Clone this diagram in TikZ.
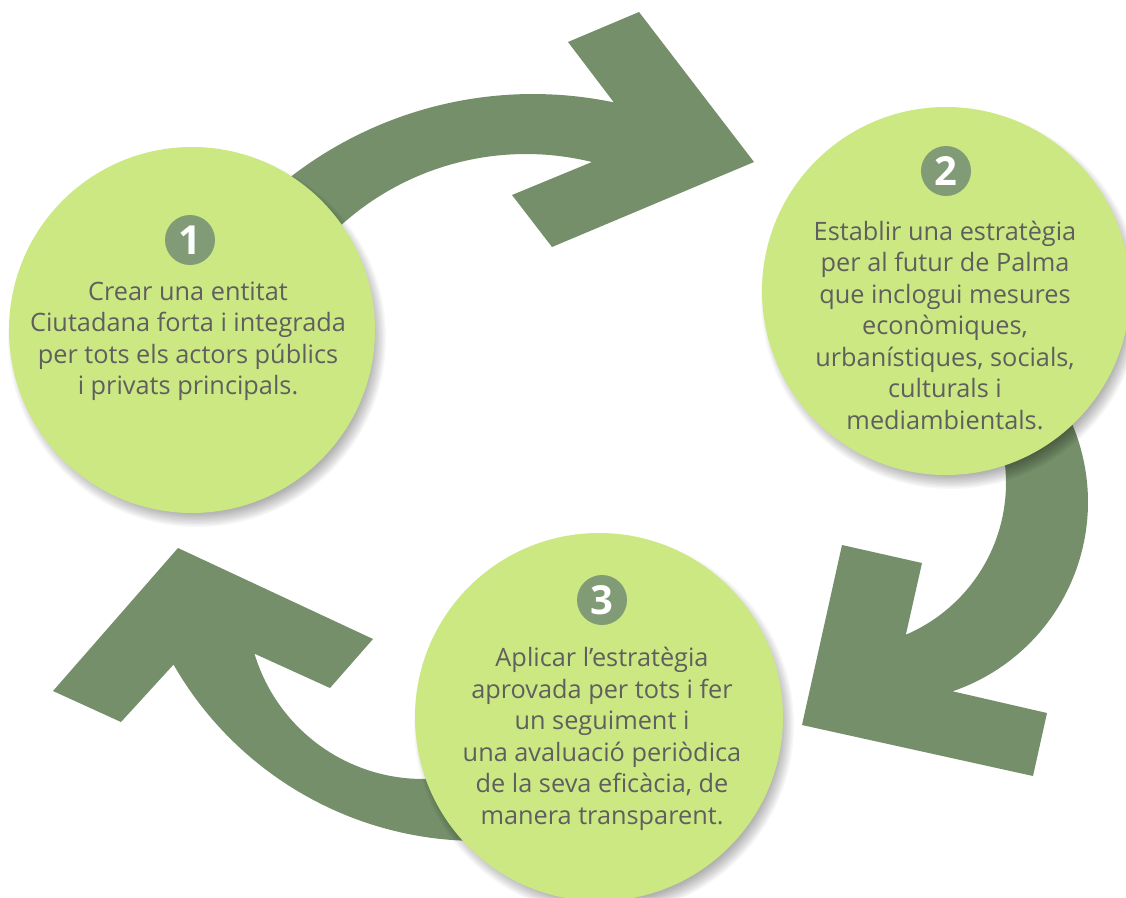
\documentclass[tikz,border=0pt]{standalone}
\usepackage{fontspec}
\setmainfont{Open Sans}
\definecolor{discgreen}{RGB}{204,232,130}
\definecolor{arrowgreen}{RGB}{116,143,105}
\definecolor{badgegreen}{RGB}{128,155,118}
\definecolor{textgrey}{RGB}{94,95,94}
\tikzset{
  disc/.style={circle, fill=discgreen, inner sep=0pt},
  badge/.style={circle, fill=badgegreen, minimum size=50pt, inner sep=0pt, text=white, font=\bfseries\fontsize{40}{40}\selectfont},
  steptext/.style={align=center, text=textgrey, font=\fontsize{25.3}{31.5}\selectfont, inner sep=0pt},
  band/.style={fill=arrowgreen},
  softshadow/.style={fill=black, opacity=0.03}
}
\begin{document}
\begin{tikzpicture}[x=1pt,y=-1pt]
\useasboundingbox (0,0) rectangle (1126,897);
\fill[white] (0,0) rectangle (1126,897);

% arrow 1 -> 2
\fill[band] plot[domain=0:1, samples=50, variable=\t] ({533+396*cos(-135+56.8*\t)}, {490+396*sin(-135+56.8*\t)})
  -- (568,42) -- (639,12) -- (754,162) -- (552,247) -- (512,195) -- (592,162)
  -- plot[domain=0:1, samples=50, variable=\t] ({526+276*cos(-76.2-68.8*\t)}, {430+276*sin(-76.2-68.8*\t)}) -- cycle;

% arrow 2 -> 3
\fill[band] plot[domain=0:1, samples=50, variable=\t] ({888+200*cos(-30+101.2*\t)}, {502+200*sin(-30+101.2*\t)})
  -- (1047,713) -- (1033,776) -- (802,725) -- (842,545) -- (922,563) -- (906,634)
  -- plot[domain=0:1, samples=50, variable=\t] ({841+165*cos(66.7-96.7*\t)}, {483+165*sin(66.7-96.7*\t)}) -- cycle;

% arrow 3 -> 1
\fill[band] plot[domain=0:1, samples=50, variable=\t] ({478+351*cos(75+75.2*\t)}, {490+351*sin(75+75.2*\t)})
  -- (121,722) -- (53,691) -- (178,548) -- (373,639) -- (330,688) -- (253,653)
  -- plot[domain=0:1, samples=50, variable=\t] ({423+176*cos(163.6-85.6*\t)}, {603+176*sin(163.6-85.6*\t)}) -- cycle;

% soft shadows
\foreach \cx/\cy/\r in {192/330/183, 946/291/184, 599/717/184}{
  \foreach \i in {0,...,11}{
    \fill[softshadow] (\cx+5,\cy+8) circle[radius={\r*1pt+6pt-\i*1.4pt}];
  }
}

% discs
\node[disc, minimum size=366pt] (c1) at (192,330) {};
\node[disc, minimum size=368pt] (c2) at (946,291) {};
\node[disc, minimum size=368pt] (c3) at (599,717) {};

% badges
\node[badge] (b1) at (190,240) {1};
\node[badge] (b2) at (946,171) {2};
\node[badge] (b3) at (602,600) {3};

% texts
\node[steptext] (t1) at (188,341) {Crear una entitat\\Ciutadana forta i integrada\\per tots els actors públics\\i privats principals.};
\node[steptext] (t2) at (945,325) {Establir una estratègia\\per al futur de Palma\\que inclogui mesures\\econòmiques,\\urbanístiques, socials,\\culturals i\\mediambientals.};
\node[steptext] (t3) at (602,739) {Aplicar l’estratègia\\aprovada per tots i fer\\un seguiment i\\una avaluació periòdica\\de la seva eficàcia, de\\manera transparent.};
\end{tikzpicture}
\end{document}
